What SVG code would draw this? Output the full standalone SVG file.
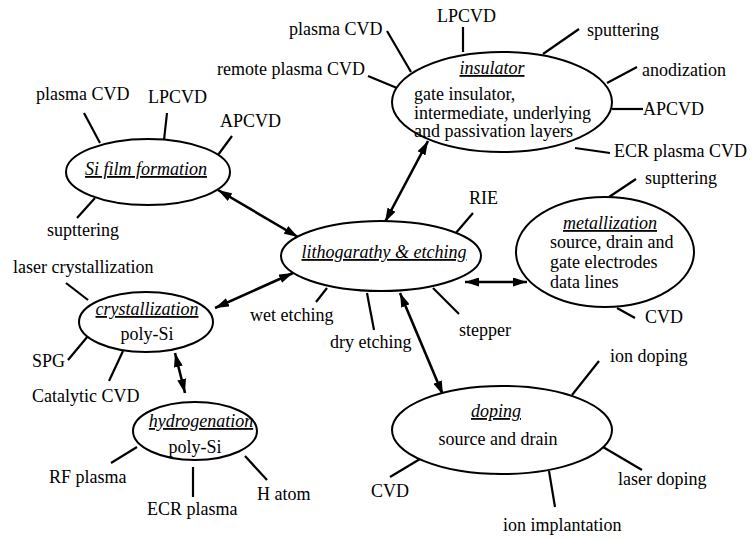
<svg xmlns="http://www.w3.org/2000/svg" width="752" height="539" viewBox="0 0 752 539" font-family="'Liberation Serif', 'DejaVu Serif', serif" font-size="18">
<defs>
<style>
text{font-family:'Liberation Serif','DejaVu Serif',serif;font-size:18px;fill:#000}
.t{font-style:italic;text-decoration:underline}
.c{text-anchor:middle}
ellipse{fill:#fff;stroke:#000;stroke-width:2}
.sp line{stroke:#000;stroke-width:2.2}
.arr line{stroke:#000;stroke-width:2.6;marker-start:url(#ah);marker-end:url(#ah)}
</style>
<marker id="ah" viewBox="0 0 14 9" refX="14" refY="4.5" markerWidth="14" markerHeight="9" markerUnits="userSpaceOnUse" orient="auto-start-reverse">
<path d="M0,0 L14,4.5 L0,9 Z" fill="#000"/>
</marker>
</defs>
<rect width="752" height="539" fill="#fff"/>

<g id="connectors" class="arr">
<line x1="218" y1="190" x2="298" y2="237"/>
<line x1="215" y1="308" x2="293" y2="273"/>
<line x1="428" y1="141" x2="385" y2="222"/>
<line x1="465" y1="282" x2="527" y2="282"/>
<line x1="400" y1="293" x2="443" y2="395"/>
<line x1="175" y1="353" x2="185" y2="393"/>
</g>

<g id="si-film">
<g class="sp">
<line x1="84" y1="113" x2="100" y2="143"/>
<line x1="167" y1="113" x2="164" y2="140"/>
<line x1="232" y1="136" x2="218" y2="155"/>
<line x1="95" y1="198" x2="77" y2="218"/>
</g>
<ellipse cx="148" cy="172" rx="82" ry="33"/>
<text class="t c" x="146" y="175">Si film formation</text>
<text x="36" y="100">plasma CVD</text>
<text x="148" y="103">LPCVD</text>
<text x="220" y="127">APCVD</text>
<text x="47" y="236">supttering</text>
</g>

<g id="insulator">
<g class="sp">
<line x1="387" y1="31" x2="411" y2="72"/>
<line x1="368" y1="76" x2="397" y2="88"/>
<line x1="463" y1="27" x2="463" y2="52"/>
<line x1="579" y1="29" x2="543" y2="54"/>
<line x1="637" y1="67" x2="607" y2="83"/>
<line x1="612" y1="109" x2="643" y2="109"/>
<line x1="610" y1="153" x2="575" y2="148"/>
</g>
<ellipse cx="502" cy="102" rx="110" ry="50"/>
<text class="t c" x="492" y="74">insulator</text>
<text x="414" y="100">gate insulator,</text>
<text x="414" y="119">intermediate, underlying</text>
<text x="414" y="137">and passivation layers</text>
<text x="289" y="35">plasma CVD</text>
<text x="217" y="75">remote plasma CVD</text>
<text x="437" y="22">LPCVD</text>
<text x="587" y="36">sputtering</text>
<text x="642" y="76">anodization</text>
<text x="643" y="115">APCVD</text>
<text x="614" y="157">ECR plasma CVD</text>
</g>

<g id="metallization">
<g class="sp">
<line x1="636" y1="179" x2="609" y2="197"/>
<line x1="617" y1="308" x2="635" y2="318"/>
</g>
<ellipse cx="605" cy="252" rx="89" ry="55"/>
<text class="t c" x="610" y="229">metallization</text>
<text x="550" y="248">source, drain and</text>
<text x="550" y="268">gate electrodes</text>
<text x="550" y="288">data lines</text>
<text x="645" y="184">supttering</text>
<text x="645" y="323">CVD</text>
</g>

<g id="lithography">
<g class="sp">
<line x1="473" y1="213" x2="455" y2="234"/>
<line x1="327" y1="288" x2="316" y2="302"/>
<line x1="367" y1="293" x2="374" y2="330"/>
<line x1="433" y1="288" x2="459" y2="314"/>
</g>
<ellipse cx="381" cy="256" rx="100" ry="35"/>
<text class="t c" x="384" y="258">lithogarathy &amp; etching</text>
<text x="469" y="204">RIE</text>
<text x="250" y="321">wet etching</text>
<text x="330" y="348">dry etching</text>
<text x="459" y="336">stepper</text>
</g>

<g id="crystallization">
<g class="sp">
<line x1="66" y1="283" x2="88" y2="300"/>
<line x1="68" y1="360" x2="88" y2="336"/>
<line x1="109" y1="381" x2="123" y2="351"/>
</g>
<ellipse cx="146" cy="322" rx="67" ry="30"/>
<text class="t c" x="147" y="315">crystallization</text>
<text class="c" x="147" y="340">poly-Si</text>
<text x="13" y="273">laser crystallization</text>
<text x="32" y="367">SPG</text>
<text x="32" y="402">Catalytic CVD</text>
</g>

<g id="hydrogenation">
<g class="sp">
<line x1="111" y1="463" x2="137" y2="447"/>
<line x1="193" y1="467" x2="193" y2="497"/>
<line x1="245" y1="456" x2="267" y2="480"/>
</g>
<ellipse cx="195" cy="431" rx="62" ry="29"/>
<text class="t c" x="201" y="427">hydrogenation</text>
<text class="c" x="195" y="453">poly-Si</text>
<text x="49" y="483">RF plasma</text>
<text x="147" y="515">ECR plasma</text>
<text x="257" y="500">H atom</text>
</g>

<g id="doping">
<g class="sp">
<line x1="599" y1="361" x2="572" y2="395"/>
<line x1="603" y1="447" x2="642" y2="470"/>
<line x1="549" y1="471" x2="555" y2="507"/>
<line x1="390" y1="477" x2="420" y2="459"/>
</g>
<ellipse cx="502" cy="430" rx="110" ry="44"/>
<text class="t c" x="496" y="417">doping</text>
<text class="c" x="498" y="445">source and drain</text>
<text x="610" y="362">ion doping</text>
<text x="618" y="485">laser doping</text>
<text x="503" y="531">ion implantation</text>
<text x="371" y="497">CVD</text>
</g>
</svg>
